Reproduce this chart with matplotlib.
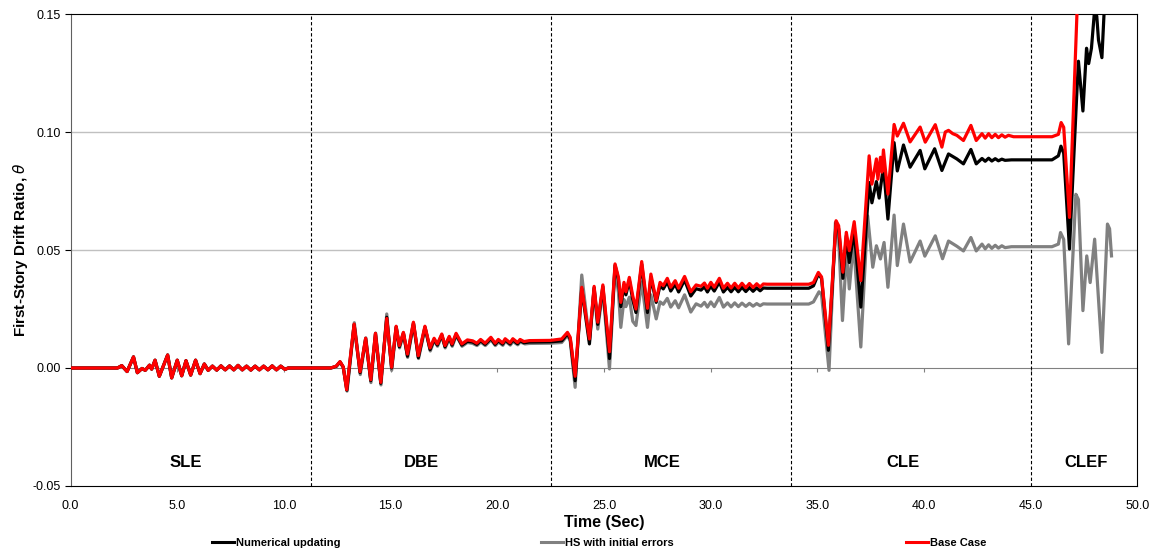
import matplotlib

matplotlib.use("Agg")
import matplotlib.pyplot as plt
from matplotlib.lines import Line2D

plt.rcParams["font.family"] = ["Liberation Sans", "DejaVu Sans"]

# ---- SLE: all three traces lie on top of each other (time s, drift ratio) ----
sle = [
    (0.0, 0.0), (2.2, 0.0), (2.4, 0.001), (2.65, -0.0015), (2.95, 0.0047),
    (3.13, -0.002), (3.35, -0.0002), (3.5, -0.001), (3.7, 0.0012), (3.8, -0.0005),
    (3.96, 0.0033), (4.16, -0.0035), (4.55, 0.0055), (4.74, -0.0042), (5.0, 0.0033),
    (5.21, -0.0033), (5.41, 0.0031), (5.63, -0.003), (5.86, 0.0033), (6.07, -0.0024),
    (6.27, 0.0017), (6.45, -0.001), (6.65, 0.0008), (6.85, -0.0009), (7.05, 0.0009),
    (7.25, -0.0008), (7.45, 0.0009), (7.65, -0.0008), (7.85, 0.0011), (8.05, -0.0008),
    (8.25, 0.0008), (8.45, -0.0009), (8.65, 0.0008), (8.85, -0.0008), (9.05, 0.0008),
    (9.25, -0.0008), (9.45, 0.0009), (9.65, -0.0008), (9.85, 0.0008), (10.05, -0.0006),
    (10.2, 0.0), (12.0, 0.0),
]

# ---- Base Case (red), DBE onwards ----
base = [
    (12.2, 0.0), (12.45, 0.0008), (12.63, 0.0027), (12.78, 0.0005), (12.94, -0.0092),
    (13.29, 0.0186), (13.57, -0.0016), (13.83, 0.0126), (14.07, -0.005), (14.29, 0.0147),
    (14.54, -0.0061), (14.82, 0.021), (15.05, 0.0003), (15.26, 0.0177), (15.41, 0.0095),
    (15.6, 0.0151), (15.79, 0.0059), (16.07, 0.0194), (16.3, 0.0052), (16.61, 0.0177),
    (16.85, 0.0085), (17.04, 0.0126), (17.19, 0.0102), (17.4, 0.0144), (17.55, 0.0095),
    (17.75, 0.0134), (17.88, 0.0102), (18.07, 0.0147), (18.34, 0.0102), (18.6, 0.0119),
    (18.85, 0.0115), (19.04, 0.0105), (19.22, 0.0121), (19.43, 0.0105), (19.7, 0.013),
    (19.9, 0.0105), (20.05, 0.0121), (20.25, 0.0106), (20.37, 0.0124), (20.6, 0.0107),
    (20.73, 0.0124), (20.95, 0.0108), (21.07, 0.0121), (21.25, 0.0112), (21.5, 0.0116),
    (22.5, 0.0117), (23.02, 0.0123), (23.29, 0.0151), (23.42, 0.013), (23.65, -0.0035),
    (23.96, 0.0342), (24.32, 0.0123), (24.54, 0.0346), (24.71, 0.0194), (24.95, 0.0352),
    (25.26, 0.0069), (25.52, 0.0441), (25.68, 0.0384), (25.79, 0.0278), (25.94, 0.0363),
    (26.03, 0.0323), (26.19, 0.0384), (26.35, 0.0306), (26.5, 0.025), (26.77, 0.0451),
    (27.04, 0.0253), (27.2, 0.0398), (27.45, 0.0285), (27.63, 0.0363), (27.78, 0.0349),
    (27.97, 0.038), (28.13, 0.0342), (28.34, 0.037), (28.5, 0.0338), (28.78, 0.0388),
    (29.07, 0.0323), (29.32, 0.0352), (29.55, 0.0346), (29.71, 0.036), (29.85, 0.0338),
    (30.01, 0.0363), (30.17, 0.0342), (30.41, 0.038), (30.6, 0.0338), (30.79, 0.0359),
    (30.96, 0.0339), (31.13, 0.0359), (31.3, 0.0339), (31.47, 0.0359), (31.65, 0.034),
    (31.82, 0.0358), (31.99, 0.0341), (32.16, 0.0357), (32.32, 0.0343), (32.47, 0.0356),
    (32.65, 0.0355), (34.6, 0.0355), (34.82, 0.0362), (35.05, 0.0405), (35.2, 0.0386),
    (35.52, 0.0096), (35.88, 0.0624), (36.0, 0.0603), (36.2, 0.0406), (36.36, 0.0575),
    (36.5, 0.0497), (36.73, 0.062), (37.04, 0.037), (37.43, 0.0899), (37.56, 0.0779),
    (37.77, 0.0886), (37.84, 0.08), (37.96, 0.0893), (38.03, 0.083), (38.1, 0.0924),
    (38.31, 0.0737), (38.6, 0.1032), (38.75, 0.0983), (39.04, 0.1037), (39.35, 0.0958),
    (39.82, 0.1021), (40.06, 0.0957), (40.53, 0.1031), (40.84, 0.0936), (41.0, 0.1),
    (41.15, 0.1007), (41.35, 0.0993), (41.54, 0.0986), (41.85, 0.0964), (42.2, 0.1028),
    (42.45, 0.0964), (42.72, 0.0993), (42.87, 0.0974), (43.03, 0.0993), (43.18, 0.0976),
    (43.34, 0.099), (43.49, 0.0976), (43.65, 0.0988), (43.8, 0.0978), (43.96, 0.0986),
    (44.2, 0.098), (46.0, 0.098), (46.3, 0.099), (46.43, 0.104), (46.55, 0.102),
    (46.82, 0.0638), (47.17, 0.15), (47.3, 0.158), (47.7, 0.175), (48.2, 0.185),
]

# ---- Numerical updating (black), DBE onwards ----
num = [
    (12.2, 0.0), (12.45, 0.0007), (12.63, 0.0026), (12.78, 0.0004), (12.95, -0.0094),
    (13.29, 0.0184), (13.57, -0.002), (13.83, 0.0124), (14.07, -0.0054), (14.29, 0.0145),
    (14.54, -0.0065), (14.82, 0.0215), (15.05, 0.0), (15.26, 0.0174), (15.41, 0.009),
    (15.6, 0.0148), (15.79, 0.005), (16.07, 0.019), (16.3, 0.0044), (16.61, 0.0173),
    (16.85, 0.0078), (17.04, 0.0121), (17.19, 0.0097), (17.4, 0.014), (17.55, 0.009),
    (17.75, 0.013), (17.88, 0.0097), (18.07, 0.0142), (18.34, 0.0097), (18.6, 0.0113),
    (18.85, 0.011), (19.04, 0.01), (19.22, 0.0116), (19.43, 0.01), (19.7, 0.0125),
    (19.9, 0.01), (20.05, 0.0116), (20.25, 0.0101), (20.37, 0.0119), (20.6, 0.0102),
    (20.73, 0.0119), (20.95, 0.0103), (21.07, 0.0116), (21.25, 0.0107), (21.5, 0.011),
    (22.5, 0.0111), (23.02, 0.0115), (23.29, 0.0145), (23.42, 0.0123), (23.65, -0.0054),
    (23.96, 0.0335), (24.32, 0.0102), (24.54, 0.034), (24.71, 0.0185), (24.95, 0.0345),
    (25.26, 0.004), (25.52, 0.0435), (25.68, 0.0375), (25.79, 0.026), (25.94, 0.0352),
    (26.03, 0.031), (26.19, 0.0372), (26.35, 0.029), (26.5, 0.0235), (26.77, 0.044),
    (27.04, 0.0235), (27.2, 0.0385), (27.45, 0.0278), (27.63, 0.035), (27.78, 0.0335),
    (27.97, 0.0365), (28.13, 0.0326), (28.34, 0.0355), (28.5, 0.0322), (28.78, 0.0373),
    (29.07, 0.0305), (29.32, 0.0336), (29.55, 0.033), (29.71, 0.0344), (29.85, 0.0322),
    (30.01, 0.0347), (30.17, 0.0326), (30.41, 0.0364), (30.6, 0.0322), (30.79, 0.0342),
    (30.96, 0.0323), (31.13, 0.0342), (31.3, 0.0323), (31.47, 0.0342), (31.65, 0.0324),
    (31.82, 0.0341), (31.99, 0.0325), (32.16, 0.034), (32.32, 0.0327), (32.47, 0.0339),
    (32.65, 0.0338), (34.6, 0.0338), (34.82, 0.0348), (35.05, 0.0398), (35.2, 0.038),
    (35.52, 0.0075), (35.88, 0.0615), (36.0, 0.059), (36.2, 0.038), (36.36, 0.056),
    (36.5, 0.0447), (36.73, 0.058), (37.04, 0.0258), (37.43, 0.0786), (37.56, 0.07),
    (37.77, 0.079), (37.9, 0.072), (38.1, 0.0856), (38.31, 0.0631), (38.6, 0.0955),
    (38.75, 0.0835), (39.04, 0.0945), (39.35, 0.0851), (39.82, 0.0922), (40.04, 0.0844),
    (40.5, 0.0929), (40.84, 0.0837), (41.15, 0.0907), (41.54, 0.0886), (41.85, 0.0865),
    (42.2, 0.0926), (42.45, 0.0865), (42.72, 0.0888), (42.87, 0.0876), (43.03, 0.0889),
    (43.18, 0.0877), (43.34, 0.0887), (43.49, 0.0878), (43.65, 0.0885), (43.8, 0.088),
    (44.1, 0.0882), (46.0, 0.0882), (46.3, 0.0899), (46.42, 0.094), (46.55, 0.091),
    (46.82, 0.0504), (47.15, 0.1138), (47.24, 0.13), (47.45, 0.1089), (47.62, 0.1355),
    (47.72, 0.129), (47.85, 0.1355), (48.0, 0.152), (48.1, 0.149), (48.18, 0.139),
    (48.34, 0.1315), (48.45, 0.152), (48.6, 0.165),
]

# ---- HS with initial errors (gray), DBE onwards ----
hs = [
    (12.2, 0.0), (12.45, 0.0006), (12.63, 0.0025), (12.78, 0.0003), (12.96, -0.0098),
    (13.3, 0.0192), (13.58, -0.0028), (13.84, 0.0128), (14.08, -0.0062), (14.3, 0.0148),
    (14.55, -0.0072), (14.82, 0.0229), (15.05, -0.001), (15.27, 0.0172), (15.42, 0.0085),
    (15.61, 0.0145), (15.8, 0.0045), (16.08, 0.0188), (16.31, 0.004), (16.62, 0.017),
    (16.86, 0.0072), (17.05, 0.0118), (17.2, 0.0092), (17.41, 0.0135), (17.56, 0.0085),
    (17.76, 0.0125), (17.89, 0.0092), (18.08, 0.0138), (18.35, 0.0092), (18.6, 0.0108),
    (18.85, 0.0104), (19.05, 0.0095), (19.23, 0.011), (19.44, 0.0095), (19.71, 0.0119),
    (19.91, 0.0095), (20.06, 0.011), (20.26, 0.0096), (20.38, 0.0113), (20.61, 0.0097),
    (20.74, 0.0112), (20.96, 0.0098), (21.08, 0.011), (21.3, 0.0102), (21.5, 0.0104),
    (22.5, 0.0105), (23.02, 0.0108), (23.29, 0.0138), (23.42, 0.0115), (23.65, -0.0082),
    (23.96, 0.0394), (24.32, 0.0115), (24.54, 0.0335), (24.71, 0.0165), (24.95, 0.033),
    (25.26, -0.0004), (25.52, 0.0425), (25.68, 0.032), (25.79, 0.0172), (25.94, 0.029),
    (26.03, 0.026), (26.19, 0.03), (26.35, 0.0198), (26.5, 0.018), (26.77, 0.0365),
    (27.04, 0.0172), (27.2, 0.031), (27.45, 0.0208), (27.63, 0.028), (27.78, 0.027),
    (27.97, 0.0295), (28.13, 0.0258), (28.34, 0.0285), (28.5, 0.0255), (28.78, 0.031),
    (29.07, 0.0237), (29.32, 0.0272), (29.55, 0.0262), (29.71, 0.0278), (29.85, 0.0258),
    (30.01, 0.028), (30.17, 0.026), (30.41, 0.0299), (30.6, 0.0258), (30.79, 0.0276),
    (30.96, 0.0259), (31.13, 0.0276), (31.3, 0.026), (31.47, 0.0275), (31.65, 0.0261),
    (31.82, 0.0274), (31.99, 0.0262), (32.16, 0.0273), (32.32, 0.0264), (32.47, 0.0272),
    (32.65, 0.0271), (34.6, 0.0271), (34.82, 0.028), (35.08, 0.0323), (35.2, 0.031),
    (35.55, -0.001), (35.85, 0.0617), (36.0, 0.055), (36.18, 0.0201), (36.38, 0.0497),
    (36.5, 0.0335), (36.7, 0.0532), (37.04, 0.0089), (37.36, 0.0645), (37.6, 0.0427),
    (37.77, 0.0518), (37.96, 0.0462), (38.13, 0.0532), (38.31, 0.0342), (38.6, 0.0648),
    (38.75, 0.0434), (39.04, 0.061), (39.35, 0.0449), (39.82, 0.0538), (40.04, 0.0474),
    (40.53, 0.056), (40.87, 0.0463), (41.15, 0.0538), (41.54, 0.0516), (41.85, 0.0496),
    (42.2, 0.0553), (42.45, 0.0496), (42.72, 0.0525), (42.87, 0.0505), (43.03, 0.0522),
    (43.18, 0.0507), (43.34, 0.052), (43.49, 0.0508), (43.65, 0.0518), (43.8, 0.051),
    (44.1, 0.0514), (46.0, 0.0514), (46.3, 0.0525), (46.4, 0.0574), (46.55, 0.0545),
    (46.78, 0.0102), (47.12, 0.0736), (47.24, 0.0714), (47.45, 0.0243), (47.63, 0.0475),
    (47.79, 0.0362), (48.0, 0.0546), (48.34, 0.0066), (48.6, 0.061), (48.7, 0.059),
    (48.79, 0.0475),
]

phase_names = ["SLE", "DBE", "MCE", "CLE", "CLEF"]
phase_x = [5.41, 16.43, 27.73, 39.0, 47.6]
phase_edges = [11.25, 22.5, 33.75, 45.0]

series = [
    ("HS with initial errors", hs, "#808080"),
    ("Numerical updating", num, "#000000"),
    ("Base Case", base, "#ff0000"),
]

fig = plt.figure(figsize=(11.53, 5.52), dpi=100)
ax = fig.add_axes([0.0612, 0.1196, 0.9252, 0.855])

ax.set_xlim(0, 50)
ax.set_ylim(-0.05, 0.15)
ax.set_yticks([-0.05, 0.0, 0.05, 0.10, 0.15])
ax.set_yticklabels(["-0.05", "0.00", "0.05", "0.10", "0.15"])
ax.set_xticks(range(0, 51, 5))
ax.set_xticklabels([f"{x:.1f}" for x in range(0, 51, 5)])
ax.tick_params(axis="x", length=0, pad=10, labelsize=9)
ax.tick_params(axis="y", direction="out", length=4, pad=3, labelsize=9)

for y in (0.05, 0.10):
    ax.axhline(y, color="#c0c0c0", lw=1.0, zorder=0)
for xe in phase_edges:
    ax.axvline(xe, color="black", lw=0.8, ls=(0, (3, 2)), zorder=1)

# horizontal axis crossing at zero, with its little tick marks
zax = ax.secondary_xaxis(0, transform=ax.transData)
zax.set_xticks(range(5, 50, 5))
zax.tick_params(direction="out", length=3, color="#808080", labelbottom=False)
zax.spines["bottom"].set_color("#808080")

for sp in ("top", "right", "bottom"):
    ax.spines[sp].set_color("black")
ax.spines["left"].set_color("#606060")

for label, pts, col in series:
    t, v = zip(*(sle + pts))
    ax.plot(t, v, color=col, lw=2.3, solid_joinstyle="round", zorder=3)

for name, xp in zip(phase_names, phase_x):
    ax.text(xp, -0.04, name, ha="center", va="center", fontsize=12, weight="bold")

ax.set_xlabel("Time (Sec)", fontsize=11.5, weight="bold", labelpad=2)
ax.set_ylabel(r"First-Story Drift Ratio, $\theta$", fontsize=11, weight="bold", labelpad=2)

# legend entries spread along the bottom edge
leg_x = [212, 541, 906]
leg_order = [("Numerical updating", "#000000"), ("HS with initial errors", "#808080"),
             ("Base Case", "#ff0000")]
for px, (name, col) in zip(leg_x, leg_order):
    h = Line2D([], [], color=col, lw=2.2)
    fig.legend(handles=[h], labels=[name], loc="center left",
               bbox_to_anchor=(px / 1153, 1 - 543 / 552), frameon=False,
               borderpad=0, borderaxespad=0, handlelength=2.0, handletextpad=0.15,
               prop={"size": 8, "weight": "bold"})

fig.savefig("out.png", dpi=100)
